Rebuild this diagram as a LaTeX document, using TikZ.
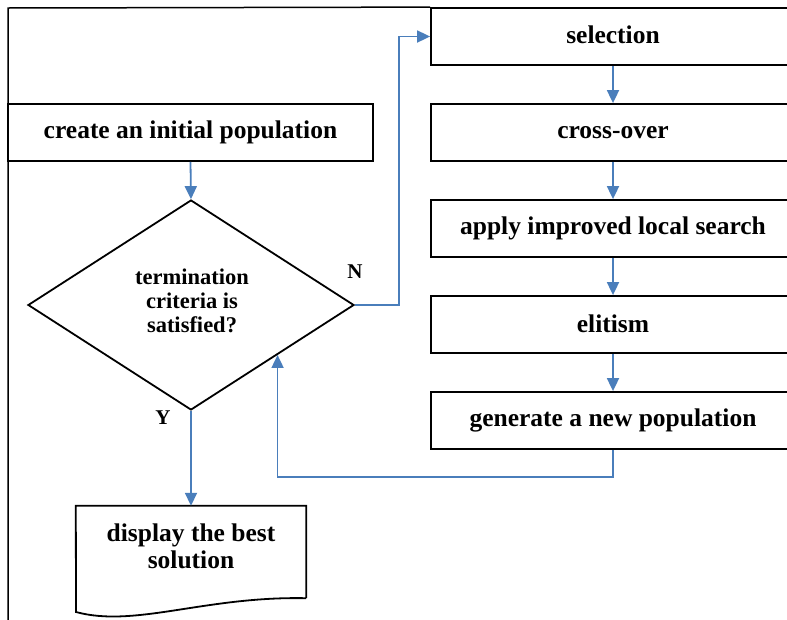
\documentclass[tikz,border=0pt]{standalone}
\usepackage{fontspec}
\setmainfont{Liberation Serif}
\usetikzlibrary{shapes.geometric,arrows.meta}
\definecolor{flowblue}{HTML}{4A7EBB}
\tikzset{
  every node/.style={font=\fontsize{25.5}{24}\selectfont\bfseries},
  stepbox/.style={draw=black, line width=1.8pt, rectangle, inner sep=0pt},
  leftbox/.style={stepbox, minimum width=365pt, minimum height=57pt},
  rightbox/.style={stepbox, minimum width=364pt, minimum height=57pt},
  decision/.style={draw=black, line width=1.8pt, diamond, inner sep=0pt,
    minimum width=326pt, minimum height=210pt, align=center},
  flow/.style={draw=flowblue, line width=1.8pt, -{Triangle[length=13pt,width=12pt]}},
  frame/.style={draw=black, line width=1.5pt},
  branch/.style={font=\fontsize{21}{22}\selectfont\bfseries}
}
\begin{document}
\begin{tikzpicture}[x=1pt, y=-1pt]
  \useasboundingbox (0,0) rectangle (787,619);
  \clip (0,0) rectangle (787,619);

  % start box and decision
  \node[leftbox] (create) at (190.5,132.5) {create an initial population};
  \node[decision] (dia) at (191,305) {};
  \node[align=center, font=\fontsize{22.5}{24}\selectfont\bfseries] (crit) at (192,301)
    {termination\\criteria is\\satisfied?};

  % main loop steps
  \node[rightbox] (sel)  at (613,36.5)  {\raisebox{3pt}{selection}};
  \node[rightbox] (cross) at (613,132.5) {cross-over};
  \node[rightbox] (ils)  at (613,228.5) {apply improved local search};
  \node[rightbox] (elit) at (613,324.5) {\raisebox{2pt}{elitism}};
  \node[rightbox] (gen)  at (613,420.5) {generate a new population};

  % output document
  \node[minimum width=230pt, minimum height=92pt, inner sep=0pt] (disp) at (191,552) {};
  \draw[black, line width=1.8pt] (disp.south east) -- (disp.north east) -- (disp.north west)
    -- (76,612) .. controls (135,628) and (205,596) .. (disp.south east);
  \node[align=center, font=\fontsize{25.5}{27}\selectfont\bfseries] (dispText) at (191,546)
    {display the best\\solution};

  % outer frame
  \coordinate (frameBottom) at (8,625);
  \draw[frame] (frameBottom) -- (8,8) -- (sel.north west);

  % branch labels
  \node[branch] (nLab) at (355,272) {N};
  \node[branch] (yLab) at (163,418) {Y};

  % connectors
  \draw[flow] (create.south) -- (dia.north);
  \draw[flow] (dia.east) -- ++(44,0) |- (sel.west);
  \draw[flow] (sel.south) -- (cross.north);
  \draw[flow] (cross.south) -- (ils.north);
  \draw[flow] (ils.south) -- (elit.north);
  \draw[flow] (elit.south) -- (gen.north);
  \draw[flow] (gen.south) -- ++(0,27) -| (dia.-30.9);
  \draw[flow] (dia.south) -- (disp.north);
\end{tikzpicture}
\end{document}
